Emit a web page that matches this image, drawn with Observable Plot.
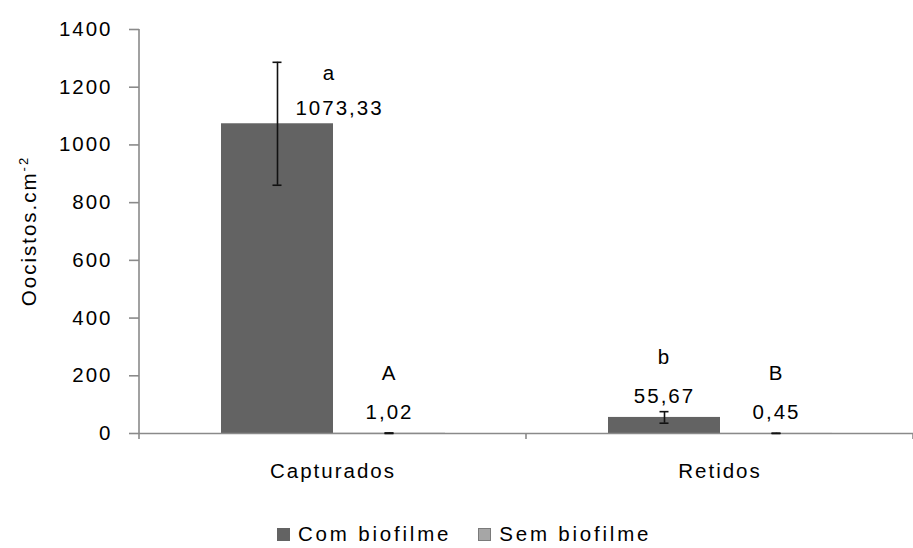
<!DOCTYPE html>
<html>
<head>
<meta charset="utf-8">
<script src="https://cdn.jsdelivr.net/npm/d3@7"></script>
<script src="https://cdn.jsdelivr.net/npm/@observablehq/plot@0.6"></script>
<style>
  html, body { margin: 0; padding: 0; background: #fff; }
  body { width: 913px; height: 548px; overflow: hidden; font-family: "Liberation Sans", Arial, sans-serif; }
  svg text { letter-spacing: 2px; }
  #legend { height: 28px; line-height: 28px; margin-left: 277px; font-size: 20.5px; letter-spacing: 2.8px; color: #000; display: flex; align-items: center; white-space: nowrap; }
  #legend .sw { display: inline-block; width: 13px; height: 13px; margin-right: 8px; box-sizing: border-box; }
  #legend .item { display: flex; align-items: center; margin-right: 27px; }
</style>
</head>
<body>
<div id="chart"></div>
<div id="legend"></div>
<script>
// ---- data ----
const categories = ["Capturados", "Retidos"];
const series = ["Com biofilme", "Sem biofilme"];
const comValues = [1073.33, 55.67];
const semValues = [1.02, 0.45];
const comErrors = [213, 20];
const semErrors = [1, 0.4];
const comLetters = ["a", "b"];
const semLetters = ["A", "B"];
const yTicks = [0, 200, 400, 600, 800, 1000, 1200, 1400];
const colors = ["#636363", "#a6a6a6"];
const yTitle = "Oocistos.cm";
const yTitleSup = "-2";

const fmt = v => v.toFixed(2).replace(".", ",");
const rows = [];
categories.forEach((c, i) => {
  rows.push({cat: c, series: series[0], value: comValues[i], err: comErrors[i], letter: comLetters[i], label: fmt(comValues[i])});
  rows.push({cat: c, series: series[1], value: semValues[i], err: semErrors[i], letter: semLetters[i], label: fmt(semValues[i])});
});
const shifted = d => d.cat === categories[0] && d.series === series[0];

const plot = Plot.plot({
  width: 913,
  height: 520,
  marginLeft: 138,
  marginRight: 0,
  marginTop: 29,
  marginBottom: 87,
  style: {fontFamily: "Liberation Sans, Arial, sans-serif", fontSize: "20.5px", color: "#000", background: "#fff"},
  fx: {domain: categories, padding: 0, label: null},
  x: {domain: series, paddingInner: 0, paddingOuter: 0.715, axis: null},
  y: {domain: [0, 1400], label: null},
  color: {domain: series, range: colors},
  marks: [
    Plot.barY(rows, {fx: "cat", x: "series", y: "value", fill: "series"}),
    Plot.ruleY([0], {stroke: "#8a8a8a", strokeWidth: 1.6}),
    Plot.ruleX(rows, {fx: "cat", x: "series", y1: d => d.value - d.err, y2: d => d.value + d.err, stroke: "#111", strokeWidth: 1.6}),
    Plot.tickY(rows, {fx: "cat", x: "series", y: d => d.value + d.err, stroke: "#111", strokeWidth: 1.6, insetLeft: 51.5, insetRight: 51.5}),
    Plot.tickY(rows, {fx: "cat", x: "series", y: d => d.value - d.err, stroke: "#111", strokeWidth: 1.6, insetLeft: 51.5, insetRight: 51.5}),
    Plot.text(rows.filter(d => !shifted(d)), {fx: "cat", x: "series", y: "value", text: "label", dy: -21, fill: "#000"}),
    Plot.text(rows.filter(d => !shifted(d)), {fx: "cat", x: "series", y: "value", text: "letter", dy: -60, fill: "#000"}),
    Plot.text(rows.filter(shifted), {fx: "cat", x: "series", y: "value", text: "label", dy: -15, dx: 62, fill: "#000"}),
    Plot.text(rows.filter(shifted), {fx: "cat", x: "series", y: "value", text: "letter", dy: -50, dx: 52, fill: "#000"}),
    Plot.axisY({ticks: yTicks, tickSize: 10, tickPadding: 17, stroke: "#8a8a8a", fill: "#000", strokeWidth: 1.6, label: null, tickFormat: d => String(d)}),
    Plot.axisFx({anchor: "bottom", tickSize: 0, tickPadding: 30, fill: "#000", label: null})
  ]
});
document.getElementById("chart").appendChild(plot);

const svg = d3.select(plot);
const fx = plot.scale("fx");
const yS = plot.scale("y");
const y0 = yS.apply(0);
const yTop = yS.apply(1400);
const xLeft = fx.apply(categories[0]);

// y axis line
svg.append("line").attr("x1", xLeft).attr("x2", xLeft).attr("y1", yTop).attr("y2", y0)
  .attr("stroke", "#8a8a8a").attr("stroke-width", 1.6);

// category boundary ticks on the x axis, from the fx scale
const bounds = categories.map(c => fx.apply(c)).concat([fx.apply(categories[categories.length - 1]) + fx.bandwidth]);
bounds.forEach(bx => {
  svg.append("line").attr("x1", bx).attr("x2", bx).attr("y1", y0).attr("y2", y0 + 6)
    .attr("stroke", "#8a8a8a").attr("stroke-width", 1.6);
});

// y axis title with superscript
const t = svg.append("text")
  .attr("transform", `translate(31,${(y0 + yTop) / 2}) rotate(-90)`)
  .attr("text-anchor", "middle")
  .attr("dominant-baseline", "middle")
  .attr("fill", "#000")
  .style("font-size", "20.5px");
t.append("tspan").text(yTitle);
t.append("tspan").attr("dy", "-0.5em").style("font-size", "13px").text(yTitleSup);

// legend
const legend = d3.select("#legend");
series.forEach((s, i) => {
  const it = legend.append("span").attr("class", "item");
  it.append("span").attr("class", "sw")
    .style("background", colors[i])
    .style("border", i === 1 ? "1px solid #7a7a7a" : "none");
  it.append("span").text(s);
});
</script>
</body>
</html>
